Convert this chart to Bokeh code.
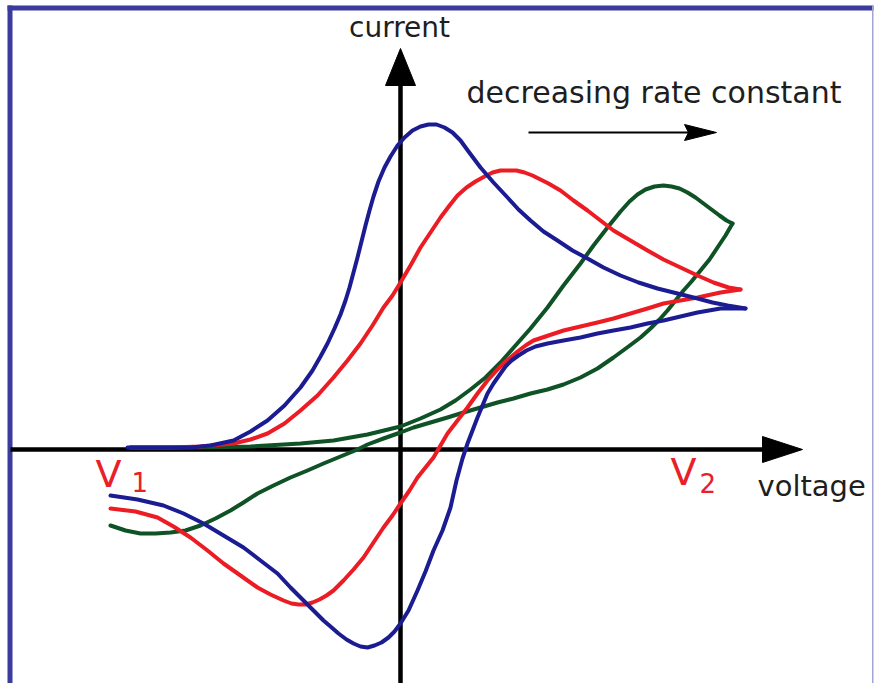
from bokeh.plotting import figure
from bokeh.models import Range1d
from bokeh.core.properties import value
from bokeh.embed import file_html
from bokeh.resources import INLINE

# Cyclic voltammograms (arbitrary units): voltage v, current i.
# Forward sweep V1 -> V2, then reverse sweep V2 -> V1, for three rate constants.

# fast electron transfer (blue)
blue_fwd_v = [-273, -240, -210, -190, -167, -150, -133, -116, -100, -88, -80, -73, -66, -60, -55, -51,
              -47, -43, -39, -35, -31, -27, -22, -16, -10, -3, 4, 12, 20, 28, 36, 44, 52, 60, 68, 80,
              93, 107, 118, 130, 143, 157, 172, 187, 203, 220, 238, 257, 277, 297, 312, 327, 345]
blue_fwd_i = [2, 2, 2, 4, 9, 18, 29, 44, 62, 79, 93, 106, 121, 135, 149, 162,
              177, 192, 208, 224, 239, 253, 268, 282, 293, 304, 312, 319, 323, 325, 325, 322, 317, 309, 298, 282,
              267, 252, 240, 229, 218, 209, 199, 191, 182, 174, 167, 161, 156, 151, 147, 144, 141]
blue_rev_v = [345, 320, 297, 280, 263, 247, 230, 213, 197, 180, 163, 147, 135, 126, 118, 111, 105, 100,
              93, 87, 82, 77, 72, 67, 62, 56, 50, 42, 33, 25, 17, 8, 0, -6, -12, -19, -26, -33, -40, -47,
              -54, -62, -70, -77, -87, -97, -110, -123, -140, -157, -177, -197, -217, -237, -263, -290]
blue_rev_i = [141, 141, 137, 133, 129, 126, 122, 119, 116, 112, 109, 106, 103, 99, 94, 89, 83, 76,
              66, 56, 44, 32, 19, 6, -9, -31, -58, -81, -101, -122, -141, -161, -174, -182, -188, -193, -196, -198, -197, -194,
              -190, -184, -177, -171, -161, -151, -138, -124, -111, -98, -86, -74, -64, -56, -50, -46]

# intermediate rate constant (red)
red_fwd_v = [-270, -230, -200, -167, -150, -133, -116, -100, -83, -67, -53, -40, -28, -17, -8, 0, 10, 20,
             30, 40, 49, 57, 66, 75, 84, 92, 100, 108, 116, 124, 132, 140, 148, 160, 173, 187, 200, 213,
             230, 247, 263, 280, 297, 313, 328, 340]
red_fwd_i = [2, 2, 3, 6, 10, 16, 26, 39, 54, 72, 89, 106, 124, 142, 154, 167, 184, 202,
             217, 232, 244, 254, 262, 268, 273, 277, 279, 279, 279, 277, 274, 270, 266, 259, 249, 239, 229, 219,
             209, 199, 190, 182, 174, 167, 162, 160]
red_rev_v = [340, 320, 297, 280, 263, 247, 230, 213, 197, 180, 163, 148, 133, 125, 117, 110, 104, 98, 87, 77,
             67, 57, 47, 40, 33, 25, 17, 9, 0, -8, -17, -27, -37, -47, -57, -67, -74, -81, -88, -95,
             -102, -109, -117, -130, -143, -160, -177, -193, -210, -227, -243, -265, -290]
red_rev_i = [160, 157, 152, 149, 146, 141, 136, 131, 127, 123, 119, 114, 109, 104, 98, 92, 87, 81, 69, 56,
             42, 29, 16, 4, -8, -18, -28, -41, -54, -66, -78, -93, -108, -120, -131, -141, -146, -150, -153, -155,
             -155, -154, -151, -145, -138, -126, -114, -101, -88, -77, -68, -62, -59]

# slow electron transfer (green)
green_fwd_v = [-270, -200, -150, -100, -67, -33, 0, 20, 40, 55, 70, 85, 100, 115, 130, 147, 163, 180, 193,
               207, 220, 229, 237, 245, 254, 263, 271, 279, 287, 295, 303, 311, 319, 326, 332]
green_fwd_i = [2, 2, 3, 6, 9, 15, 23, 31, 40, 49, 60, 72, 87, 104, 121, 142, 164, 186, 204,
               222, 238, 248, 255, 260, 263, 264, 263, 261, 257, 252, 246, 240, 234, 229, 226]
green_rev_v = [332, 325, 317, 309, 300, 291, 283, 275, 267, 259, 250, 240, 228, 213, 197, 180, 163, 147, 130, 113,
               97, 80, 63, 47, 30, 13, 0, -17, -33, -43, -60, -77, -93, -110, -127, -143, -157, -170, -185,
               -200, -215, -230, -245, -260, -275, -290]
green_rev_i = [226, 214, 202, 190, 179, 168, 159, 149, 139, 130, 121, 112, 103, 92, 81, 72, 65, 60, 56, 51,
               47, 42, 37, 32, 27, 22, 17, 11, 5, 0, -7, -14, -21, -28, -36, -44, -53, -61, -69,
               -76, -81, -83, -84, -84, -81, -76]

BLUE = "#1c1c92"
RED = "#ec1c24"
GREEN = "#0e5226"
LABEL_RED = "#e8202a"
TEXT = "#1e1e1e"
FRAME = "#3b3b9e"

p = figure(width=875, height=683, output_backend="svg", toolbar_location=None,
           x_range=Range1d(-400, 475), y_range=Range1d(-234, 449),
           x_axis_location=None, y_axis_location=None, min_border=0,
           outline_line_color=None, background_fill_color="white", border_fill_color="white")
p.xgrid.visible = False
p.ygrid.visible = False

# frame
p.quad(left=-393, right=-388, bottom=-234, top=444, fill_color=FRAME, line_color=None)
p.quad(left=-393, right=473, bottom=439, top=444, fill_color=FRAME, line_color=None)
p.quad(left=471.5, right=473, bottom=-234, top=444, fill_color="#a3a3d6", line_color=None)

# axes with arrow heads
p.line([-390, 366], [0, 0], line_color="black", line_width=4.5)
p.patch([402, 362, 362], [0, 13, -13], fill_color="black", line_color="black", line_width=1)
p.line([0, 0], [-234, 366], line_color="black", line_width=4.5)
p.patch([0, -15, 15], [401, 364, 364], fill_color="black", line_color="black", line_width=1)

# curves
LW = 4
style = dict(line_width=LW, line_join="round", line_cap="round")
p.line(green_fwd_v, green_fwd_i, line_color=GREEN, **style)
p.line(green_rev_v, green_rev_i, line_color=GREEN, **style)
p.line(red_fwd_v, red_fwd_i, line_color=RED, **style)
p.line(red_rev_v, red_rev_i, line_color=RED, **style)
p.line(blue_fwd_v, blue_fwd_i, line_color=BLUE, **style)
p.line(blue_rev_v, blue_rev_i, line_color=BLUE, **style)

# rate-constant arrow
p.line([128, 292], [317, 317], line_color="black", line_width=2)
p.patch([316, 284, 288, 284], [317, 325, 317, 309], fill_color="black", line_color="black", line_width=1)

FONT = value("DejaVu Sans")
p.text(x=[-1], y=[422], text=["current"], text_font=FONT, text_font_size="28px",
       text_align="center", text_baseline="alphabetic", text_color=TEXT)
p.text(x=[66], y=[357], text=["decreasing rate constant"], text_font=FONT, text_font_size="30px",
       text_align="left", text_baseline="alphabetic", text_color=TEXT)
p.text(x=[357], y=[-36], text=["voltage"], text_font=FONT, text_font_size="29px",
       text_align="left", text_baseline="alphabetic", text_color=TEXT)

p.text(x=[-305], y=[-24], text=["V"], text_font=FONT, text_font_size="38px",
       text_align="left", text_baseline="alphabetic", text_color=LABEL_RED)
p.text(x=[-269], y=[-32], text=["1"], text_font=FONT, text_font_size="26px",
       text_align="left", text_baseline="alphabetic", text_color=LABEL_RED)
p.text(x=[270], y=[-22], text=["V"], text_font=FONT, text_font_size="38px",
       text_align="left", text_baseline="alphabetic", text_color=LABEL_RED)
p.text(x=[299], y=[-33], text=["2"], text_font=FONT, text_font_size="26px",
       text_align="left", text_baseline="alphabetic", text_color=LABEL_RED)

open("out.html", "w").write(file_html(p, INLINE))
